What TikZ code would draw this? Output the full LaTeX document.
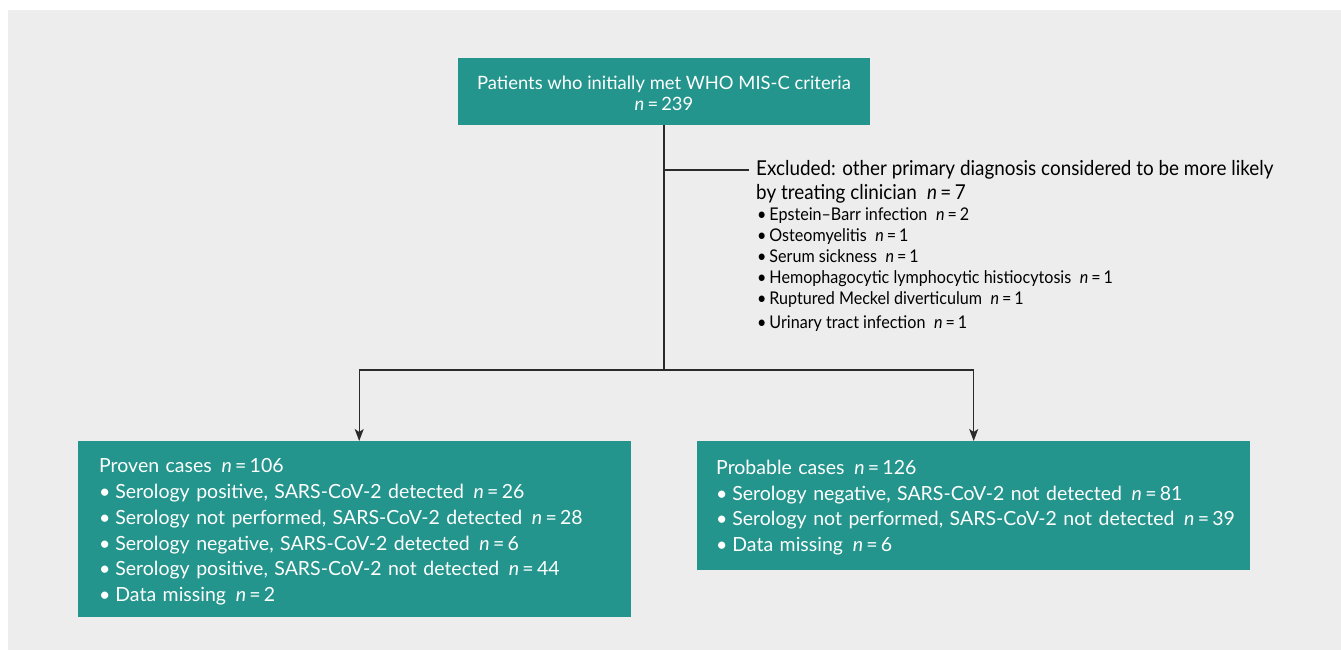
\documentclass[tikz,border=0pt]{standalone}
\usepackage{fontspec}
\setmainfont{Lato}
\newfontfamily\condfont[FakeStretch=0.92]{Lato}
\usetikzlibrary{arrows.meta}
\definecolor{teal1}{HTML}{23958C}
\definecolor{bggray}{HTML}{EDEDED}
\definecolor{linec}{HTML}{2B2B2B}
\newcommand{\nn}[1]{\enspace\textit{n}\,=\,#1}
\newcommand{\bul}{\textbullet\hspace{0.25em}}
\tikzset{
  box/.style={fill=teal1, text=white, draw=none, inner sep=0pt},
  conn/.style={draw=linec, line width=1.2pt},
  arr/.style={conn, -{Stealth[length=12pt,width=9pt,inset=3pt]}},
}
\begin{document}
\begin{tikzpicture}[x=1pt,y=-1pt]
\useasboundingbox (0,0) rectangle (1341,650);
\fill[bggray] (8,10) rectangle (1341,650);
% top box
\node[box, minimum width=412pt, minimum height=67pt, align=center,
  font=\fontsize{18.4}{21}\selectfont] (top) at (664,91.5)
  {\rule{0pt}{17pt}Patients who initially met WHO MIS-C criteria\\[0pt] \textit{n}\,=\,239};
% excluded
\node[anchor=west, inner xsep=7pt, inner ysep=0pt, align=left,
  font=\condfont\fontsize{20.5}{24}\selectfont, text=black] (excl) at (749,182)
  {Excluded: other primary diagnosis considered to be more likely\\
   by treating clinician\nn{7}};
\node[anchor=west, inner sep=0pt, align=left,
  font=\condfont\fontsize{17.5}{21.1}\selectfont, text=black] (list) at (757,269.5)
  {\textbullet\,Epstein–Barr infection\nn{2}\\
   \textbullet\,Osteomyelitis\nn{1}\\
   \textbullet\,Serum sickness\nn{1}\\
   \textbullet\,Hemophagocytic lymphocytic histiocytosis\nn{1}\\
   \textbullet\,Ruptured Meckel diverticulum\nn{1}\\[3pt]
   \textbullet\,Urinary tract infection\nn{1}};
% bottom boxes
\node[box, anchor=north west, minimum width=553pt, minimum height=176pt,
  text width=511pt, inner xsep=21pt, align=left,
  font=\fontsize{19.5}{25.7}\selectfont] (left) at (78,441)
  {\rule{0pt}{19.5pt}Proven cases\nn{106}\\
   \bul Serology positive, SARS-CoV-2 detected\nn{26}\\
   \bul Serology not performed, SARS-CoV-2 detected\nn{28}\\
   \bul Serology negative, SARS-CoV-2 detected\nn{6}\\
   \bul Serology positive, SARS-CoV-2 not detected\nn{44}\\
   \bul Data missing\nn{2}};
\node[box, anchor=north west, minimum width=553pt, minimum height=129pt,
  text width=515pt, inner xsep=19pt, align=left,
  font=\fontsize{19.5}{25.5}\selectfont] (right) at (697,441)
  {\rule{0pt}{18.5pt}Probable cases\nn{126}\\
   \mbox{\bul Serology negative, SARS-CoV-2 not detected\nn{81}}\\
   \mbox{\bul Serology not performed, SARS-CoV-2 not detected\nn{39}}\\
   \bul Data missing\nn{6}};
% connectors
\coordinate (j1) at (664,170);
\coordinate (j2) at (664,370);
\draw[conn] (top.south) -- (j2);
\draw[conn] (j1) -- (excl.west |- j1);
\draw[arr] (j2) -| ([xshift=4.5pt]left.north);
\draw[arr] (j2) -| (right.north);
\end{tikzpicture}
\end{document}
